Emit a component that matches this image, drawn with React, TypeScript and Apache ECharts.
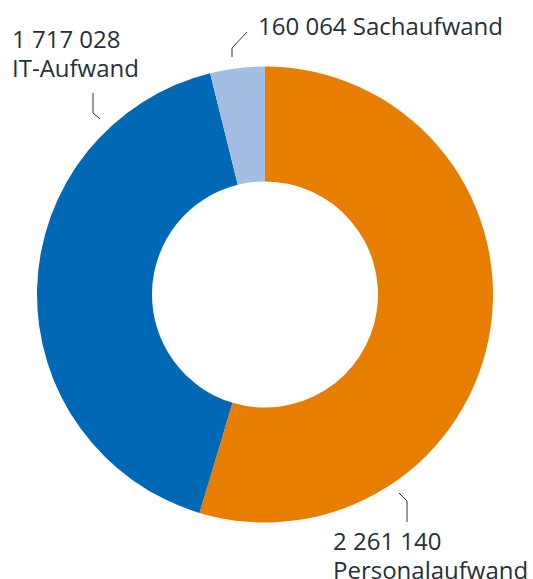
import React, { useEffect, useRef } from "react";
import * as echarts from "echarts";

const categories = ["Personalaufwand", "IT-Aufwand", "Sachaufwand"];
const values = [2261140, 1717028, 160064];
const colors = ["#e77e00", "#0068b4", "#a3bee2"];

const fmt = (v: number) => String(v).replace(/\B(?=(\d{3})+(?!\d))/g, " ");

export default function App() {
  const ref = useRef<HTMLDivElement>(null);
  useEffect(() => {
    document.body.style.margin = "0";
    const chart = echarts.init(ref.current!, undefined, { renderer: "svg" });
    const labelPos = [
      { x: 333, y: 526, line: [[399, 493], [407, 501], [407, 522]] },
      { x: 12, y: 24, line: [[93, 93], [93, 113], [100, 119]] },
      { x: 258, y: 11, line: [[232, 57], [232, 48], [247, 32]] },
    ];
    chart.setOption({
      animation: false,
      backgroundColor: "#ffffff",
      series: [
        {
          type: "pie",
          center: [265, 294.5],
          radius: [113, 228],
          startAngle: 90,
          clockwise: true,
          avoidLabelOverlap: false,
          data: categories.map((name, i) => ({
            name,
            value: values[i],
            itemStyle: { color: colors[i] },
          })),
          label: {
            show: true,
            fontFamily: "Open Sans",
            fontSize: 24,
            lineHeight: 29,
            color: "#26303a",
            formatter: (p: any) =>
              p.dataIndex === 2 ? `${fmt(p.value)} ${p.name}` : `${fmt(p.value)}\n${p.name}`,
          },
          labelLine: {
            show: true,
            lineStyle: { color: "#2a3540", width: 1 },
          },
          labelLayout: (params: any) => {
            const lp = labelPos[params.dataIndex];
            return {
              x: lp.x,
              y: lp.y,
              align: "left",
              verticalAlign: "top",
              labelLinePoints: lp.line,
            };
          },
          emphasis: { disabled: true },
        },
      ],
    });
    return () => chart.dispose();
  }, []);
  return <div ref={ref} style={{ width: 533, height: 579 }} />;
}
